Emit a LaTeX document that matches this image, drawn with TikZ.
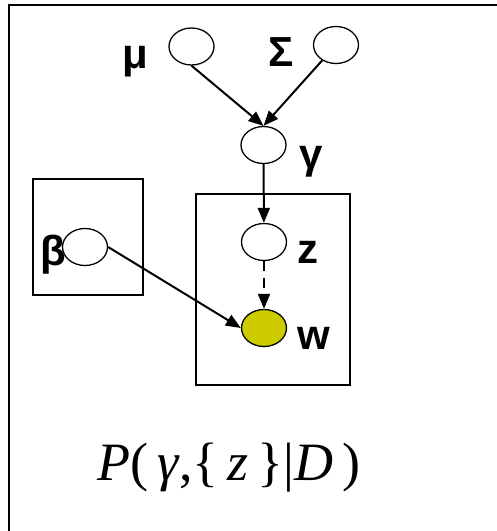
\documentclass[tikz,border=0pt]{standalone}
\usepackage{fontspec}
\setmainfont{Liberation Serif}
\newfontfamily\lblfont{Liberation Sans}
\usetikzlibrary{arrows.meta,positioning,shapes.geometric}
\definecolor{obsfill}{RGB}{204,204,0}
\tikzset{
  var/.style={
    ellipse,
    draw=black,
    line width=0.65pt,
    fill=white,
    minimum width=22.5pt,
    minimum height=18.5pt,
    inner sep=0pt
  },
  obs/.style={
    var,
    fill=obsfill
  },
  lbl/.style={
    inner sep=0pt,
    font=\lblfont\bfseries\fontsize{21}{24}\selectfont
  },
  plate/.style={
    rectangle,
    draw=black,
    line width=0.6pt,
    inner sep=0pt
  },
  frame/.style={
    draw=black,
    line width=1.1pt
  },
  arrow/.style={
    -{Triangle[length=7.5pt,width=6pt]},
    line width=1pt,
    draw=black
  },
  dashedarrow/.style={
    arrow,
    dash pattern=on 5pt off 3.5pt
  },
  formula/.style={
    inner sep=0pt,
    font=\fontsize{27}{31}\selectfont
  }
}

\begin{document}
\begin{tikzpicture}[x=0.5pt, y=-0.5pt]
  \useasboundingbox (0,0) rectangle (497,531);
  \begin{scope}
    \clip (0,0) rectangle (497,531);
    \draw[frame] (9,5) rectangle (540,570);
  \end{scope}

  \node[plate, minimum width=55pt, minimum height=58pt] (betaplate) at (88,237) {};
  \node[plate, minimum width=77pt, minimum height=95.5pt] (docplate) at (273,289.5) {};

  \node[var] (mu) at (191.5,46.5) {};
  \node[var] (sigma) at (336,45) {};
  \node[var] (gamma) at (263.5,145) {};
  \node[var] (z) at (264,242) {};
  \node[obs] (w) at (264,328) {};
  \node[var] (beta) at (85,247) {};

  \node[lbl, left=10pt of mu, yshift=-7.75pt] (mulbl) {μ};
  \node[lbl, left=9.5pt of sigma, yshift=-3.5pt] (sigmalbl) {Σ};
  \node[lbl, right=6pt of gamma, yshift=-8.25pt] (gammalbl) {γ};
  \node[lbl, left=-2.5pt of beta, yshift=-4pt] (betalbl) {β};
  \node[lbl, right=5pt of z, yshift=-5.25pt] (zlbl) {z};
  \node[lbl, right=5pt of w, yshift=-5.25pt] (wlbl) {w};

  \node[formula, anchor=base] (post) at (229,480)
    {\textit{P}(\,\textit{γ},\{\,\textit{z}\,\}|\textit{D}\,)};

  \draw[arrow] (mu.south) -- (gamma.north);
  \draw[arrow] (sigma) -- (gamma.north);
  \draw[arrow] (gamma) -- (z);
  \draw[dashedarrow] (z) -- (w);
  \draw[arrow] (beta.east) -- (w.west);
\end{tikzpicture}
\end{document}
